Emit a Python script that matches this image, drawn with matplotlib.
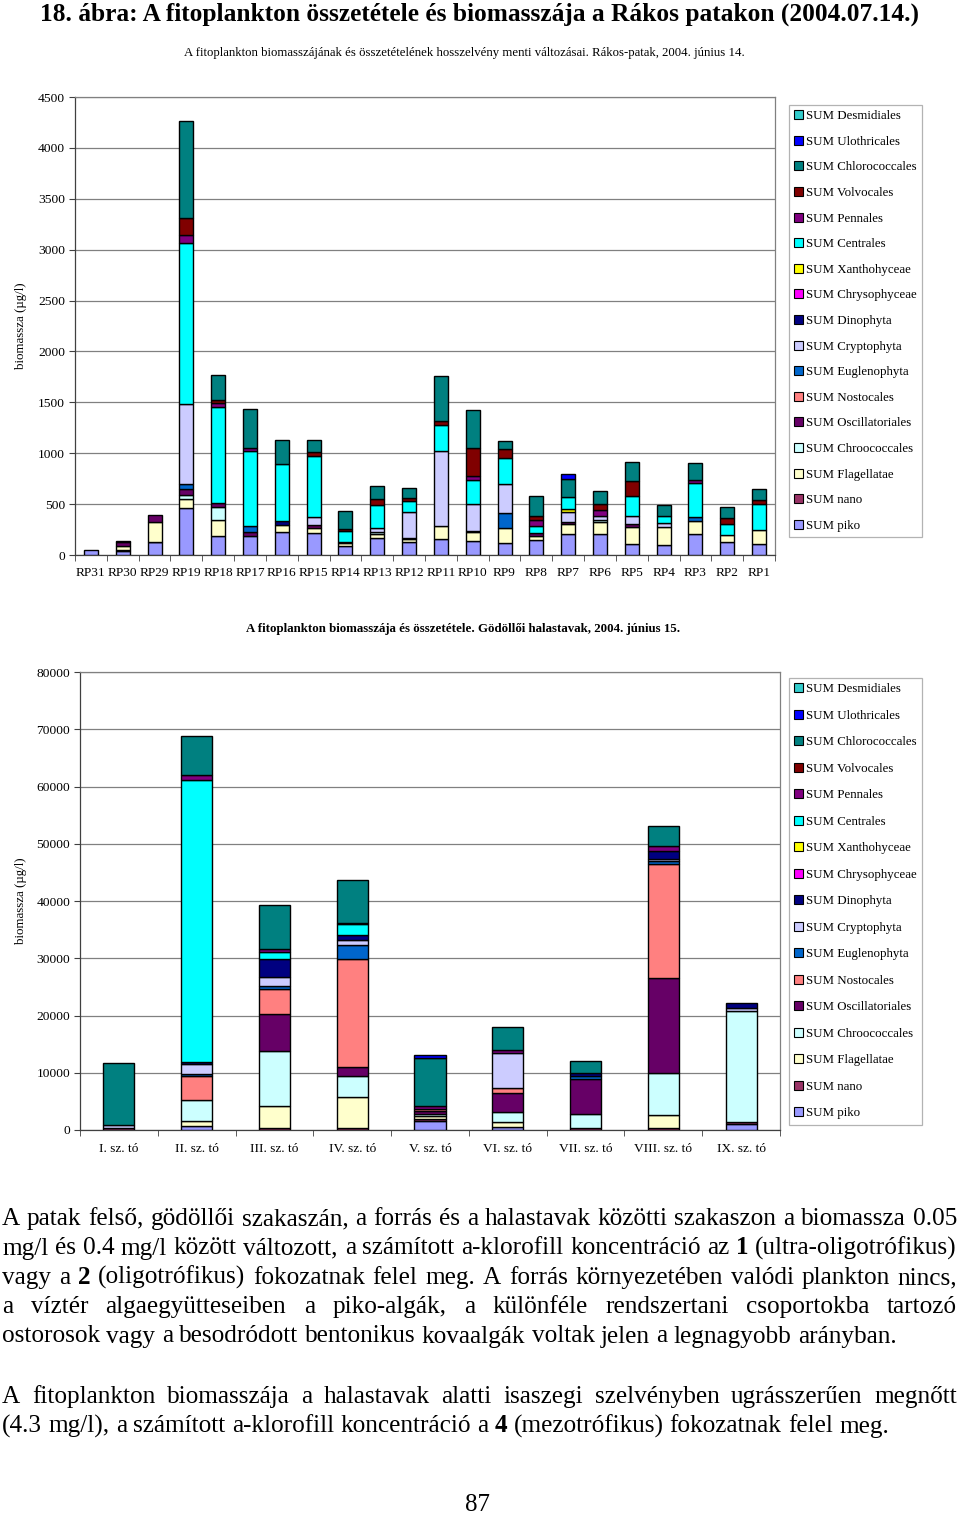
import numpy as np
import matplotlib
matplotlib.use("Agg")
from matplotlib import pyplot as plt
from matplotlib.patches import Patch

plt.rcParams['font.family'] = ['Liberation Serif', 'DejaVu Serif']

W, H = 960, 1515

# series, in stacking order (bottom -> top)
groups = ['piko', 'nano', 'Flagellatae', 'Chroococcales', 'Oscillatoriales', 'Nostocales',
          'Euglenophyta', 'Cryptophyta', 'Dinophyta', 'Chrysophyceae', 'Xanthohyceae',
          'Centrales', 'Pennales', 'Volvocales', 'Chlorococcales', 'Ulothricales', 'Desmidiales']
group_colors = ['#9999FF', '#993366', '#FFFFCC', '#CCFFFF', '#660066', '#FF8080',
                '#0066CC', '#CCCCFF', '#000080', '#FF00FF', '#FFFF00',
                '#00FFFF', '#800080', '#800000', '#008080', '#0000FF', '#33CCCC']

# Rakos-patak, 2004.06.14 (ug/l)
rp_sites = ['RP31', 'RP30', 'RP29', 'RP19', 'RP18', 'RP17', 'RP16', 'RP15', 'RP14', 'RP13', 'RP12',
            'RP11', 'RP10', 'RP9', 'RP8', 'RP7', 'RP6', 'RP5', 'RP4', 'RP3', 'RP2', 'RP1']
rp_piko = [50, 35, 124, 458, 190, 183, 222, 219, 90, 170, 124, 154, 138, 115, 150, 206, 206, 108, 95, 206, 124, 111]
rp_nano = [0, 10, 5, 0, 0, 0, 0, 0, 0, 0, 0, 0, 0, 0, 0, 0, 0, 0, 0, 0, 0, 0]
rp_flag = [0, 40, 200, 92, 150, 0, 75, 49, 25, 40, 30, 134, 92, 154, 39, 98, 118, 167, 180, 124, 75, 137]
rp_chroo = [0, 0, 0, 39, 131, 0, 0, 0, 15, 18, 0, 0, 0, 0, 0, 0, 16, 0, 0, 0, 0, 0]
rp_oscill = [0, 45, 60, 59, 39, 39, 0, 26, 0, 0, 10, 0, 10, 0, 26, 16, 0, 26, 0, 0, 0, 0]
rp_nosto = [0] * 22
rp_eugl = [0, 0, 0, 49, 0, 59, 0, 0, 0, 0, 0, 0, 0, 141, 0, 0, 0, 0, 0, 39, 0, 0]
rp_crypt = [0, 0, 0, 784, 0, 0, 0, 82, 0, 40, 262, 736, 259, 288, 0, 101, 39, 85, 39, 0, 0, 0]
rp_dino = [0, 0, 0, 0, 0, 0, 33, 0, 0, 0, 0, 0, 0, 0, 0, 0, 0, 0, 0, 0, 0, 0]
rp_chrys = [0] * 22
rp_xanth = [0, 0, 0, 0, 0, 0, 0, 0, 0, 0, 0, 0, 0, 0, 0, 29, 0, 0, 0, 0, 0, 0]
rp_centr = [0, 0, 0, 1585, 948, 745, 565, 599, 105, 223, 108, 249, 239, 259, 72, 118, 0, 190, 65, 337, 108, 255]
rp_penn = [0, 10, 0, 75, 33, 29, 0, 0, 0, 0, 0, 0, 39, 0, 52, 0, 59, 0, 0, 33, 0, 0]
rp_volv = [0, 0, 0, 173, 33, 0, 0, 33, 20, 56, 23, 46, 272, 82, 49, 0, 65, 147, 0, 0, 56, 33]
rp_chloro = [0, 0, 0, 954, 245, 376, 235, 121, 177, 131, 98, 439, 376, 85, 196, 180, 127, 193, 114, 163, 108, 114]
rp_ulo = [0, 0, 0, 0, 0, 0, 0, 0, 0, 0, 0, 0, 0, 0, 0, 49, 0, 0, 0, 0, 0, 0]
rp_desm = [0] * 22

# Godolloi halastavak, 2004.06.15 (ug/l)
to_sites = ['I. sz. tó', 'II. sz. tó', 'III. sz. tó', 'IV. sz. tó', 'V. sz. tó',
            'VI. sz. tó', 'VII. sz. tó', 'VIII. sz. tó', 'IX. sz. tó']
to_piko = [0, 640, 0, 0, 1570, 580, 0, 0, 990]
to_nano = [400, 0, 350, 410, 300, 0, 410, 410, 410]
to_flag = [0, 870, 3900, 5360, 600, 820, 0, 2210, 0]
to_chroo = [0, 3790, 9490, 3670, 300, 1750, 2330, 7280, 19390]
to_oscill = [0, 0, 6580, 1630, 600, 3260, 6120, 16600, 0]
to_nosto = [0, 4080, 4310, 18750, 300, 990, 0, 19920, 0]
to_eugl = [0, 470, 580, 2450, 0, 0, 580, 580, 0]
to_crypt = [400, 1690, 1510, 930, 0, 6120, 0, 290, 580]
to_dino = [0, 410, 3140, 820, 0, 0, 470, 1460, 870]
to_chrys = [0] * 9
to_xanth = [0] * 9
to_centr = [0, 49150, 1160, 1920, 0, 0, 0, 0, 0]
to_penn = [0, 870, 580, 290, 500, 410, 0, 870, 0]
to_volv = [0] * 9
to_chloro = [10965, 6810, 7750, 7510, 8450, 4080, 2150, 3490, 0]
to_ulo = [0, 0, 0, 0, 400, 0, 0, 0, 0]
to_desm = [0] * 9

rp_stack = [rp_piko, rp_nano, rp_flag, rp_chroo, rp_oscill, rp_nosto, rp_eugl, rp_crypt, rp_dino,
            rp_chrys, rp_xanth, rp_centr, rp_penn, rp_volv, rp_chloro, rp_ulo, rp_desm]
to_stack = [to_piko, to_nano, to_flag, to_chroo, to_oscill, to_nosto, to_eugl, to_crypt, to_dino,
            to_chrys, to_xanth, to_centr, to_penn, to_volv, to_chloro, to_ulo, to_desm]


def fx(x):
    return x / W


def fy(y):
    return 1 - y / H


def stacked_chart(ax, sites, stack, width, ymax, ystep, leg_top, leg_space):
    x = np.arange(len(sites))
    bottom = np.zeros(len(sites))
    for vals, col in zip(stack, group_colors):
        vals = np.array(vals, dtype=float)
        keep = vals > 0
        if keep.any():
            ax.bar(x[keep], vals[keep], width=width, bottom=bottom[keep], color=col,
                   edgecolor='black', linewidth=1.0, zorder=3)
        bottom += vals
    ax.set_xlim(-0.5, len(sites) - 0.5)
    ax.set_ylim(0, ymax)
    ax.set_yticks(np.arange(0, ymax + 1, ystep))
    ax.set_xticks(x)
    ax.set_xticklabels(sites, fontsize=9.6)
    ax.set_xticks(np.arange(-0.5, len(sites)), minor=True)
    ax.tick_params(axis='x', which='major', length=0, pad=9)
    ax.tick_params(axis='x', which='minor', length=4, direction='out', color='#404040')
    ax.tick_params(axis='y', length=4, direction='out', labelsize=9.7, pad=3, color='#404040')
    ax.yaxis.grid(True, color='#808080', linewidth=0.9)
    ax.set_axisbelow(True)
    for s in ['top', 'right']:
        ax.spines[s].set_color('#808080')
        ax.spines[s].set_linewidth(0.9)
    for s in ['left', 'bottom']:
        ax.spines[s].set_color('#404040')
        ax.spines[s].set_linewidth(0.9)
    ax.set_ylabel('biomassza (µg/l)', fontsize=9.3)

    # legend lists the top series first, like excel
    handles = [Patch(facecolor=c, edgecolor='black', linewidth=0.8) for c in group_colors][::-1]
    labels = ['SUM ' + g for g in groups][::-1]
    leg = ax.legend(handles, labels, loc='upper left', bbox_to_anchor=(fx(789), fy(leg_top)),
                    bbox_transform=ax.figure.transFigure, fontsize=9.3, frameon=True, fancybox=False,
                    borderaxespad=0, borderpad=0.4, handlelength=0.7, handleheight=0.7,
                    handletextpad=0.2, labelspacing=leg_space)
    leg.get_frame().set_edgecolor('#a0a0a0')
    leg.get_frame().set_linewidth(0.9)


fig = plt.figure(figsize=(W / 100, H / 100), dpi=100)

fig.text(fx(40), fy(21), '18. ábra: A fitoplankton összetétele és biomasszája a Rákos patakon (2004.07.14.)',
         fontsize=18.3, fontweight='bold', va='baseline', ha='left')

fig.text(fx(464), fy(53), 'A fitoplankton biomasszájának és összetételének hosszelvény menti változásai. '
         'Rákos-patak, 2004. június 14.', fontsize=9.2, ha='center', va='center')

ax1 = fig.add_axes([fx(75), fy(555), 700 / W, 458 / H])
stacked_chart(ax1, rp_sites, rp_stack, 0.44, 4500, 500, 105, 1.05)
ax1.yaxis.set_label_coords((27 - 75) / 700, 0.5)

fig.text(fx(463), fy(629), 'A fitoplankton biomasszája és összetétele. Gödöllői halastavak, 2004. június 15.',
         fontsize=9.3, fontweight='bold', ha='center', va='center')

ax2 = fig.add_axes([fx(80), fy(1130), 700 / W, 458 / H])
stacked_chart(ax2, to_sites, to_stack, 0.4, 80000, 10000, 678, 1.12)
ax2.yaxis.set_label_coords((27 - 80) / 700, 0.5)

# body text, justified by hand
para_lines = [
    (1225, 'A patak felső, gödöllői szakaszán, a forrás és a halastavak közötti szakaszon a biomassza 0.05', True),
    (1254.5, 'mg/l és 0.4 mg/l között változott, a számított a-klorofill koncentráció az *1* (ultra-oligotrófikus)', True),
    (1284, 'vagy a *2* (oligotrófikus) fokozatnak felel meg. A forrás környezetében valódi plankton nincs,', True),
    (1313, 'a víztér algaegyütteseiben a piko-algák, a különféle rendszertani csoportokba tartozó', True),
    (1342.5, 'ostorosok vagy a besodródott bentonikus kovaalgák voltak jelen a legnagyobb arányban.', False),
    (1403, 'A fitoplankton biomasszája a halastavak alatti isaszegi szelvényben ugrásszerűen megnőtt', True),
    (1432.5, '(4.3 mg/l), a számított a-klorofill koncentráció a *4* (mezotrófikus) fokozatnak felel meg.', False),
]
body_size = 18.2
renderer = fig.canvas.get_renderer()
for y, line, just in para_lines:
    texts = []
    for w in line.split(' '):
        bold = w.startswith('*') and w.endswith('*')
        t = fig.text(0, fy(y), w.strip('*'), fontsize=body_size,
                     fontweight='bold' if bold else 'normal', va='baseline', ha='left')
        texts.append(t)
    widths = [t.get_window_extent(renderer).width for t in texts]
    left, right = 2, 957
    if just:
        gap = (right - left - sum(widths)) / (len(texts) - 1)
    else:
        gap = body_size * 0.25 * 100 / 72
    xpos = left
    for t, w in zip(texts, widths):
        t.set_x(fx(xpos))
        xpos += w + gap

fig.text(fx(478), fy(1511), '87', fontsize=18, ha='center', va='baseline')

fig.savefig('out.png', dpi=100)
